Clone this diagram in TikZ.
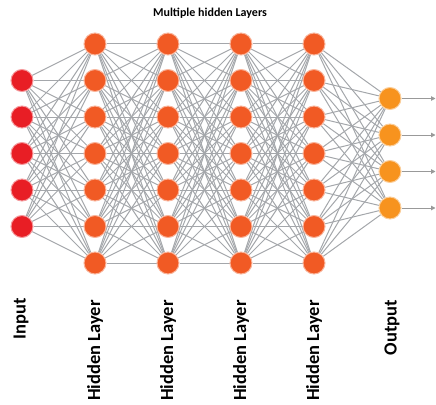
\documentclass[tikz,border=0pt]{standalone}
\usepackage{fontspec}
\setmainfont{Carlito}
\usetikzlibrary{arrows.meta,backgrounds}
\definecolor{inred}{HTML}{E81E25}
\definecolor{hidorange}{HTML}{F15A24}
\definecolor{outorange}{HTML}{F7931E}
\definecolor{linkgray}{HTML}{A4A7AB}

\begin{document}
\begin{tikzpicture}[
    x=1pt, y=-1pt,
    neuron/.style={circle, inner sep=0pt, minimum size=22pt, line width=1pt},
    inneuron/.style={neuron, fill=inred, draw=inred!45},
    hidneuron/.style={neuron, fill=hidorange, draw=hidorange!45},
    outneuron/.style={neuron, fill=outorange, draw=outorange!45},
    link/.style={draw=linkgray, line width=1pt},
    arrow/.style={-{Triangle[length=4.5pt,width=4.5pt]}, draw=gray!80, line width=1pt},
    layername/.style={font=\bfseries\fontsize{18.5}{18.5}\selectfont, rotate=90, anchor=east, inner sep=0pt}
]
\useasboundingbox (0,0) rectangle (436,404);

% Title
\node[font=\bfseries\fontsize{12}{12}\selectfont] (title) at (210,13) {Multiple hidden Layers};

% Input layer
\foreach \i in {1,...,5}
  \node[inneuron] (in\i) at (22,{80.5+36.5*(\i-1)}) {};

% Hidden layers
\foreach \l/\x in {1/95,2/168,3/241,4/314}
  \foreach \i in {1,...,7}
    \node[hidneuron] (h\l-\i) at (\x,{44+36.5*(\i-1)}) {};

% Output layer
\foreach \i in {1,...,4} {
  \node[outneuron] (out\i) at (390,{98.5+36.5*(\i-1)}) {};
  \coordinate (end\i) at (435.5,{98.5+36.5*(\i-1)});
}

% Connections
\begin{scope}[on background layer]
\foreach \i in {1,...,5}
  \foreach \j in {1,...,7}
    \draw[link] (in\i) -- (h1-\j);
\foreach \l/\m in {1/2,2/3,3/4}
  \foreach \i in {1,...,7}
    \foreach \j in {1,...,7}
      \draw[link] (h\l-\i) -- (h\m-\j);
\foreach \i in {1,...,7}
  \foreach \j in {1,...,4}
    \draw[link] (h4-\i) -- (out\j);
\end{scope}

\foreach \i in {1,...,4}
  \draw[arrow] (out\i) -- (end\i);

% Layer names
\node[layername] (inname) at (21,298) {Input};
\node[layername] (h1name) at (95,300) {Hidden Layer};
\node[layername] (h2name) at (168,300) {Hidden Layer};
\node[layername] (h3name) at (241,300) {Hidden Layer};
\node[layername] (h4name) at (314,300) {Hidden Layer};
\node[layername] (outname) at (392,300) {Output};

\end{tikzpicture}
\end{document}
